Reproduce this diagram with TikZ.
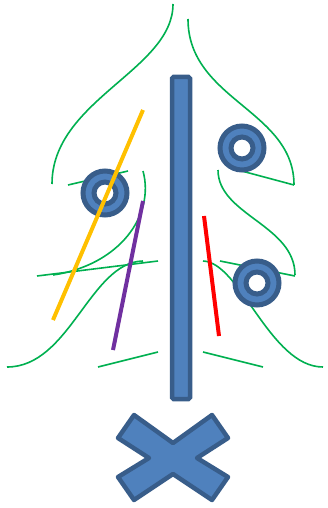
\documentclass[tikz,border=0pt]{standalone}
\definecolor{shapeblue}{RGB}{79, 129, 189}
\definecolor{shapeedge}{RGB}{56, 93, 138}
\definecolor{vinegreen}{RGB}{0, 176, 80}
\definecolor{stickgold}{RGB}{255, 192, 0}
\definecolor{stickpurple}{RGB}{112, 48, 160}
\definecolor{stickred}{RGB}{255, 0, 0}
\tikzset{
	vine/.style={draw=vinegreen, line width=1.6pt},
	stick/.style={line width=4pt},
	donut/.style={draw=shapeedge, fill=shapeblue, line width=5pt, even odd rule},
	post/.style={draw=shapeedge, fill=shapeblue, line width=4.5pt, rounded corners=1.5pt},
	cross/.style={draw=shapeedge, fill=shapeblue, line width=4.5pt, line join=round},
}

\begin{document}
\begin{tikzpicture}[x=1pt, y=-1pt]
	\useasboundingbox (0,0) rectangle (328,508);
	\coordinate (ringL) at (105,193);
	\coordinate (ringT) at (242,148);
	\coordinate (ringB) at (257,283);
	% left vines
	\draw[vine] (173,4) .. controls (173,70) and (52,100) .. (52,184);
	\draw[vine] (68,185) -- (128,171);
	\draw[vine] (143,171) .. controls (155,215) and (120,265) .. (53,275);
	\draw[vine] (37,276) -- (158,261);
	\draw[vine] (7,367) .. controls (70,367) and (90,262) .. (143,261);
	\draw[vine] (98,367) -- (158,352);
	% right vines
	\draw[vine] (188,19) .. controls (188,100) and (294,110) .. (294,185);
	\draw[vine] (238,170) -- (294,185);
	\draw[vine] (218,170) .. controls (218,215) and (295,225) .. (295,275);
	\draw[vine] (220,261) -- (295,276);
	\draw[vine] (203,261) .. controls (240,262) and (270,367) .. (323,367);
	\draw[vine] (203,352) -- (263,367);
	% rings
	\foreach \r in {ringL,ringT,ringB}{\draw[donut] (\r) circle (22pt) (\r) circle (11pt);}
	% post and cross
	\draw[post] (172,77) rectangle (190,399);
	\draw[cross] (134,415) -- (173,443) -- (212,415) -- (228,438) -- (197,458) -- (228,477)
		-- (212,500) -- (173,474) -- (134,500) -- (118,477) -- (149,458) -- (118,438) -- cycle;
	% sticks
	\draw[stick, stickgold] (143,110) -- (53,320);
	\draw[stick, stickpurple] (143,201) -- (113,350);
	\draw[stick, stickred] (204,216) -- (219,336);
\end{tikzpicture}
\end{document}
